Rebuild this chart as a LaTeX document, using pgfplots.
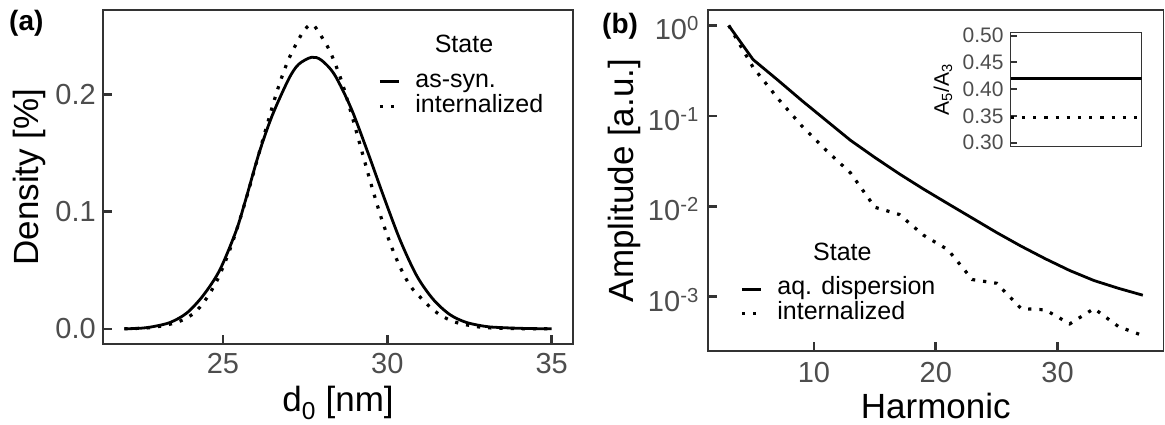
\documentclass[border=0pt]{standalone}
\usepackage{fontspec}
\setmainfont{Liberation Sans}
\usepackage{pgfplots}
\pgfplotsset{compat=1.18}

\definecolor{grey20}{HTML}{333333}
\definecolor{grey30}{HTML}{4D4D4D}

\newcommand{\tickfont}{\fontsize{29}{34}\selectfont}
\newcommand{\titlefont}{\fontsize{35}{40}\selectfont}
\newcommand{\legfont}{\fontsize{25}{25}\selectfont}
\newcommand{\insetfont}{\fontsize{21}{24}\selectfont}

\pgfplotsset{
  ggbase/.style={
    scale only axis,
    no markers,
    axis line style={grey20, line width=1.5pt},
    tick align=inside,
    xtick pos=lower, ytick pos=lower,
    major tick length=9pt,
    major tick style={grey20, line width=2.6pt},
    minor tick num=0,
    ticklabel style={font=\tickfont, text=grey30, inner sep=0pt},
    label style={font=\titlefont, text=black, inner sep=0pt},
    legend style={draw=none, fill=none, anchor=north west, inner sep=0pt,
      font=\legfont, row sep=0pt, column sep=15pt,
      nodes={inner sep=0pt, text height=18pt, text depth=6.5pt}},
    legend cell align=left,
    legend image code/.code={\draw[##1] (0pt,0pt) -- (19pt,0pt);},
  },
  solidline/.style={black, line width=2.8pt, line join=round},
  dotline/.style={black, line width=3.2pt, dash pattern=on 3.2pt off 8pt},
}

\begin{document}
\begin{tikzpicture}
\useasboundingbox (0,0) rectangle (1165pt,425pt);

% (a) size distribution
\begin{axis}[ggbase,
  at={(103pt,81pt)}, anchor=south west, width=470pt, height=334pt,
  xmin=21.35, xmax=35.65, ymin=-0.01295, ymax=0.2719,
  xtick={25,30,35}, xticklabels={25,30,35},
  ytick={0,0.1,0.2}, yticklabels={0.0,0.1,0.2},
  xticklabel style={yshift=-9pt}, yticklabel style={xshift=-7pt},
  xlabel={d\textsubscript{0} [nm]}, ylabel={Density [\%]},
  xlabel style={at={(axis description cs:0.5,-0.2006)}, anchor=base},
  ylabel style={at={(axis description cs:-0.157,0.5)}, anchor=center},
  legend style={at={(0.585,0.822)}},
]
\addplot[solidline, smooth, tension=0.5] table {
22.0 0.0000
22.5 0.0005
22.9 0.0020
23.4 0.0055
23.9 0.0135
24.4 0.0285
24.9 0.0500
25.4 0.0835
25.7 0.1110
26.1 0.1500
26.5 0.1820
27.0 0.2130
27.3 0.2255
27.7 0.2316
28.0 0.2290
28.4 0.2165
28.9 0.1880
29.4 0.1510
29.9 0.1120
30.4 0.0750
30.9 0.0450
31.4 0.0250
31.9 0.0122
32.4 0.0055
33.0 0.0020
33.5 0.0010
34.2 0.0003
35.0 0.0000
};
\addlegendentry{as-syn.}
\addplot[dotline, smooth, tension=0.5] table {
22.0 0.0000
22.8 0.0010
23.4 0.0040
23.8 0.0078
24.1 0.0130
24.3 0.0185
24.5 0.0260
24.7 0.0350
24.9 0.0460
25.15 0.0630
25.4 0.0830
25.6 0.1010
25.8 0.1200
26.0 0.1400
26.2 0.1600
26.4 0.1795
26.6 0.1985
26.8 0.2155
27.0 0.2300
27.2 0.2415
27.4 0.2515
27.6 0.2585
27.75 0.2590
27.9 0.2535
28.25 0.2370
28.6 0.2120
28.9 0.1840
29.2 0.1540
29.5 0.1240
29.8 0.0960
30.1 0.0720
30.4 0.0520
30.7 0.0365
31.0 0.0270
31.3 0.0185
31.6 0.0120
31.9 0.0075
32.2 0.0046
32.6 0.0024
33.0 0.0010
33.8 0.0002
35.0 0.0000
};
\addlegendentry{internalized}
\node[font=\legfont, anchor=base, inner sep=0pt] at (axis description cs:0.768,0.874) {State};
\end{axis}

% (b) harmonic spectrum
\begin{axis}[ggbase,
  at={(708pt,74pt)}, anchor=south west, width=455.5pt, height=341pt,
  xmin=1.3, xmax=38.7, ymode=log, ymin=2.512e-4, ymax=1.484,
  yminorticks=false,
  xtick={10,20,30}, xticklabels={10,20,30},
  ytick={0.001,0.01,0.1,1},
  yticklabels={10\textsuperscript{-3},10\textsuperscript{-2},10\textsuperscript{-1},10\textsuperscript{0}},
  xticklabel style={yshift=-11pt}, yticklabel style={xshift=-9pt, yshift=-3pt},
  xlabel={Harmonic}, ylabel={Amplitude [a.u.]},
  xlabel style={at={(axis description cs:0.5,-0.1965)}, anchor=base},
  ylabel style={at={(axis description cs:-0.184,0.5)}, anchor=center},
  legend style={at={(0.0703,0.218)}},
]
\addplot[solidline] table {
3 1.0
5 0.42
7 0.251
9 0.148
11 0.0891
13 0.0537
15 0.0347
17 0.0229
19 0.0155
21 0.0107
23 0.00741
25 0.00513
27 0.00363
29 0.00263
31 0.00195
33 0.00151
35 0.00124
37 0.00104
};
\addlegendentry{aq. dispersion}
\addplot[dotline] table {
3 1.0
5 0.345
7 0.158
9 0.0776
11 0.0417
13 0.0234
15 0.00977
17 0.00813
19 0.00479
21 0.00331
23 0.00155
25 0.00141
27 0.000741
29 0.000716
31 0.000501
33 0.000741
35 0.000468
37 0.000372
};
\addlegendentry{internalized}
\node[font=\legfont, anchor=base, inner sep=0pt] at (axis description cs:0.295,0.264) {State};
\end{axis}

% inset: A5/A3
\begin{axis}[ggbase,
  at={(1010.7pt,278.3pt)}, anchor=south west, width=131pt, height=114.4pt,
  axis background/.style={fill=white},
  xmin=0, xmax=1, ymin=0.2925, ymax=0.5065,
  xtick=\empty,
  ytick={0.30,0.35,0.40,0.45,0.50},
  yticklabels={0.30,0.35,0.40,0.45,0.50},
  major tick length=6.5pt,
  major tick style={grey20, line width=2pt},
  ticklabel style={font=\insetfont},
  yticklabel style={xshift=-7pt},
  ylabel={A\textsubscript{5}/A\textsubscript{3}},
  ylabel style={font=\insetfont, at={(axis description cs:-0.517,0.5)}, anchor=center},
]
\addplot[solidline] table {
0 0.420
1 0.420
};
\addplot[dotline] table {
0 0.347
1 0.347
};
\end{axis}

\node[anchor=north west, inner sep=0pt, font=\bfseries\fontsize{28}{28}\selectfont] at (9pt,415pt) {(a)};
\node[anchor=north west, inner sep=0pt, font=\bfseries\fontsize{28}{28}\selectfont] at (602pt,412pt) {(b)};
\end{tikzpicture}
\end{document}
